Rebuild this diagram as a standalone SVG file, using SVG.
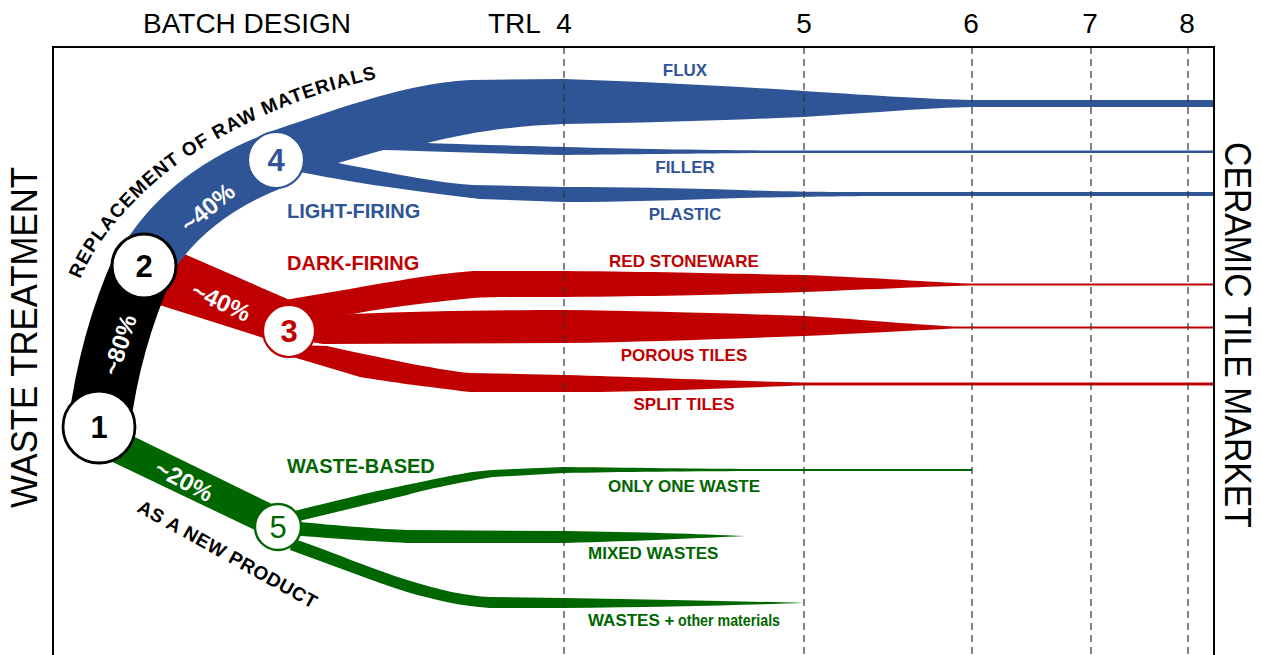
<svg xmlns="http://www.w3.org/2000/svg" xmlns:xlink="http://www.w3.org/1999/xlink" width="1261" height="655" viewBox="0 0 1261 655">
<defs>
<style>
.t{font-family:"Liberation Sans",Arial,sans-serif}
.hdr{font-size:28px;fill:#000}
.side{font-size:36px;fill:#000}
.lbl{font-size:17px;font-weight:bold}
.grp{font-size:20px;font-weight:bold}
.pct{font-size:24px;font-weight:bold;fill:#fff}
.cap{font-size:19px;font-weight:bold;fill:#000}
.num{font-size:31px;text-anchor:middle}
.blue{fill:#2F5597}
.red{fill:#C00000}
.green{fill:#006600}
.dash{stroke:#333;stroke-width:1.2;stroke-dasharray:7 5;fill:none}
</style>
<path id="arc" d="M 80,280 C 94,242 138,190 188,157 C 240,124 300,94 390,76"/>
</defs>
<rect width="1261" height="655" fill="#fff"/>

<g id="connectors">
  <!-- red trunk 2->3 -->
  <path class="red" d="M150,239 L292,301 L292,347 L150,302 Z"/>
  <!-- red products -->
  <path class="red" d="M285,300 C380,284 430,274 473,271 L564,271 C680,272 740,274 804,275 C880,278 930,282 968,283.5 L1213,283.5 L1213,285.5 L968,285.5 C930,286.5 880,289 804,292 C740,294 680,296 564,297 C520,297 490,297 473,298 C420,303 380,309 353,314 L300,322 Z"/>
  <path class="red" d="M300,318 L353,314 C420,311 500,310 564,310 C640,311 720,313 804,316 C870,320 920,325 955,326.5 L1213,326.5 L1213,328.5 L955,328.5 C920,330 870,333 804,336 C720,339 640,342 564,343 L323,344 L300,340 Z"/>
  <path class="red" d="M295,345 L327,346 C400,362 440,370 470,373 L564,375 C640,377 700,380 804,382.5 L1213,382.5 L1213,385.5 L804,385.5 C700,389 640,392 564,392 L470,392 C420,386 390,382 360,377 L293,357 Z"/>
  <!-- blue products -->
  <path class="blue" d="M266,133 C330,112 400,84 470,80 L564,79 C650,82 730,86 804,91 C880,96 930,99 972,100 L1213,100 L1213,107 L972,107 C930,108 880,112 804,117 C730,120 650,123 564,124 C510,126 465,133 427,143 L290,165 Z"/>
  <path class="blue" d="M290,150 L427,143 C480,145 530,146 564,147 C640,149 700,150 780,150.5 L1213,150.5 L1213,153 L780,153 C700,153.5 640,154.5 564,155 C500,154 430,151 383,150 L338,163 L290,168 Z"/>
  <path class="blue" d="M300,160 L338,163 C400,175 440,183 473,185 L564,187 C620,187 680,188 740,190 C800,192 850,192 880,192 L1213,192 L1213,196 L880,196 C840,196 800,197 740,198 C680,200 620,202 564,202 L480,199 C400,190 340,180 300,172 Z"/>
  <!-- blue trunk 2->4 -->
  <path d="M144,265 Q185,195 276,160" fill="none" stroke="#2F5597" stroke-width="56"/>
  <!-- green trunk 1->5 -->
  <path class="green" d="M100,420 L280,508 L280,542 L100,456 Z"/>
  <!-- green products -->
  <path class="green" d="M290,512 C340,500 370,492 397,487 C440,478 470,471 493,470 L564,467 C650,468 720,469 773,469 L972,469 L972,471 L773,471 C700,471 620,472 564,473 L493,477 C450,484 420,491 407,495 L295,522 Z"/>
  <path class="green" d="M290,521 C340,526 380,529 407,530 L564,531 C640,532 700,534 745,536 C700,538 640,541 564,543 L407,543 C370,541 340,539 290,535 Z"/>
  <path class="green" d="M292,538 C340,555 375,570 407,580 C440,590 465,596 490,597 L564,598 C660,600 740,601 804,603 C740,605 660,607 564,608 L490,608 C460,606 435,600 407,592 C370,580 335,566 290,550 Z"/>
  <!-- black trunk 1->2 -->
  <path d="M99,427 Q110,340 144,265" fill="none" stroke="#000" stroke-width="62"/>
</g>

<g id="grid">
  <path class="dash" d="M564,47 V655 M804,47 V655 M972,47 V655 M1091,47 V655 M1188,47 V655"/>
  <path d="M53,655 V47 H1214 V655" fill="none" stroke="#000" stroke-width="2"/>
</g>

<g id="node1">
  <circle cx="99" cy="427" r="36" fill="#fff" stroke="#000" stroke-width="2.8"/>
  <text class="t num" x="99" y="438" font-weight="bold" fill="#000">1</text>
</g>
<g id="node2">
  <circle cx="144" cy="266" r="32" fill="#fff" stroke="#000" stroke-width="3"/>
  <text class="t num" x="144" y="277" font-weight="bold" fill="#000">2</text>
</g>
<g id="node3">
  <circle cx="289" cy="331" r="26" fill="#fff" stroke="#C00000" stroke-width="2.2"/>
  <text class="t num red" x="289" y="342" font-weight="bold">3</text>
</g>
<g id="node4">
  <circle cx="276" cy="160" r="28" fill="#fff" stroke="#2F5597" stroke-width="2.2"/>
  <text class="t num blue" x="276" y="171" font-weight="bold">4</text>
</g>
<g id="node5">
  <circle cx="278" cy="527" r="23" fill="#fff" stroke="#006600" stroke-width="2.4"/>
  <text class="t num green" x="278" y="538">5</text>
</g>

<g id="labels">
  <text class="t hdr" x="143" y="33">BATCH DESIGN</text>
  <text class="t hdr" x="488" y="33">TRL</text>
  <text class="t hdr" x="564" y="33" text-anchor="middle">4</text>
  <text class="t hdr" x="804" y="33" text-anchor="middle">5</text>
  <text class="t hdr" x="971" y="33" text-anchor="middle">6</text>
  <text class="t hdr" x="1090" y="33" text-anchor="middle">7</text>
  <text class="t hdr" x="1187" y="33" text-anchor="middle">8</text>

  <text class="t side" transform="translate(37,508) rotate(-90)" textLength="341" lengthAdjust="spacingAndGlyphs">WASTE TREATMENT</text>
  <text class="t side" transform="translate(1225,142) rotate(90)" textLength="386" lengthAdjust="spacingAndGlyphs">CERAMIC TILE MARKET</text>

  <text class="t cap" letter-spacing="1.1"><textPath xlink:href="#arc" href="#arc" startOffset="1">REPLACEMENT OF RAW MATERIALS</textPath></text>
  <text class="t cap" transform="translate(136,511) rotate(29)" letter-spacing="0.6">AS A NEW PRODUCT</text>

  <text class="t pct" transform="translate(120,345) rotate(-72)" text-anchor="middle" dy="8">~80%</text>
  <text class="t pct" transform="translate(208,208) rotate(-40)" text-anchor="middle" dy="8">~40%</text>
  <text class="t pct" transform="translate(221,302) rotate(25)" text-anchor="middle" dy="8">~40%</text>
  <text class="t pct" transform="translate(184,481) rotate(28)" text-anchor="middle" dy="8">~20%</text>

  <text class="t grp blue" x="287" y="218">LIGHT-FIRING</text>
  <text class="t grp red" x="287" y="270">DARK-FIRING</text>
  <text class="t grp green" x="287" y="473">WASTE-BASED</text>

  <text class="t lbl blue" x="685" y="76" text-anchor="middle">FLUX</text>
  <text class="t lbl blue" x="685" y="173" text-anchor="middle">FILLER</text>
  <text class="t lbl blue" x="685" y="220" text-anchor="middle">PLASTIC</text>
  <text class="t lbl red" x="684" y="267" text-anchor="middle">RED STONEWARE</text>
  <text class="t lbl red" x="684" y="361" text-anchor="middle">POROUS TILES</text>
  <text class="t lbl red" x="684" y="410" text-anchor="middle">SPLIT TILES</text>
  <text class="t lbl green" x="684" y="492" text-anchor="middle">ONLY ONE WASTE</text>
  <text class="t lbl green" x="588" y="559">MIXED WASTES</text>
  <text class="t lbl green" x="588" y="626">WASTES +</text>
  <text class="t lbl green" x="678" y="626" textLength="102" lengthAdjust="spacingAndGlyphs">other materials</text>
</g>
</svg>
